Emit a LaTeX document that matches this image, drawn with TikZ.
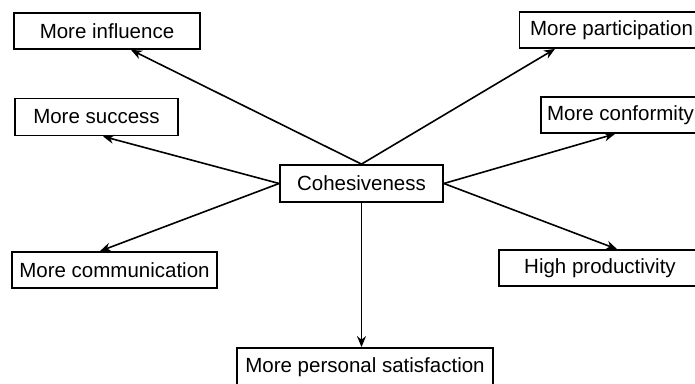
\documentclass[tikz,border=0pt]{standalone}
\usepackage{fontspec}
\setmainfont{Liberation Sans}
\usetikzlibrary{arrows.meta}
\begin{document}
\begin{tikzpicture}[x=1pt,y=-1pt,
  box/.style={draw=black, line width=1.8pt, fill=white, inner sep=0pt,
    minimum height=36pt, font=\fontsize{20.5}{23}\selectfont},
  arr/.style={line width=1.6pt, -{Stealth[length=11pt,width=9pt]}}]
\useasboundingbox (0,0) rectangle (695,383);
\node[box, minimum width=186pt] (infl) at (107,31) {More influence};
\node[box, minimum width=163pt, minimum height=37pt] (succ) at (96.5,117) {More success};
\node[box, minimum width=184pt] (part) at (611.5,30) {More participation};
\node[box, minimum width=159pt] (conf) at (620.5,115) {More conformity};
\node[box, minimum width=163pt, minimum height=37pt] (coh) at (361.5,183.5) {Cohesiveness};
\node[box, minimum width=205pt] (comm) at (114.5,270) {More communication};
\node[box, minimum width=202pt] (prod) at (600,268) {High productivity};
\node[box, minimum width=256pt, minimum height=38pt] (sat) at (365,367) {More personal satisfaction};
\draw[arr] (coh.north) -- ([xshift=24pt]infl.south);
\draw[arr] (coh.north) -- ([xshift=-56.5pt]part.south);
\draw[arr] (coh.west) -- ([xshift=6.5pt]succ.south);
\draw[arr] (coh.west) -- ([xshift=-14.5pt]comm.north);
\draw[arr] (coh.east) -- ([xshift=-5.5pt]conf.south);
\draw[arr] (coh.east) -- ([xshift=17pt]prod.north);
\draw[arr] (coh.south) -- (coh.south |- sat.north);
\end{tikzpicture}
\end{document}
